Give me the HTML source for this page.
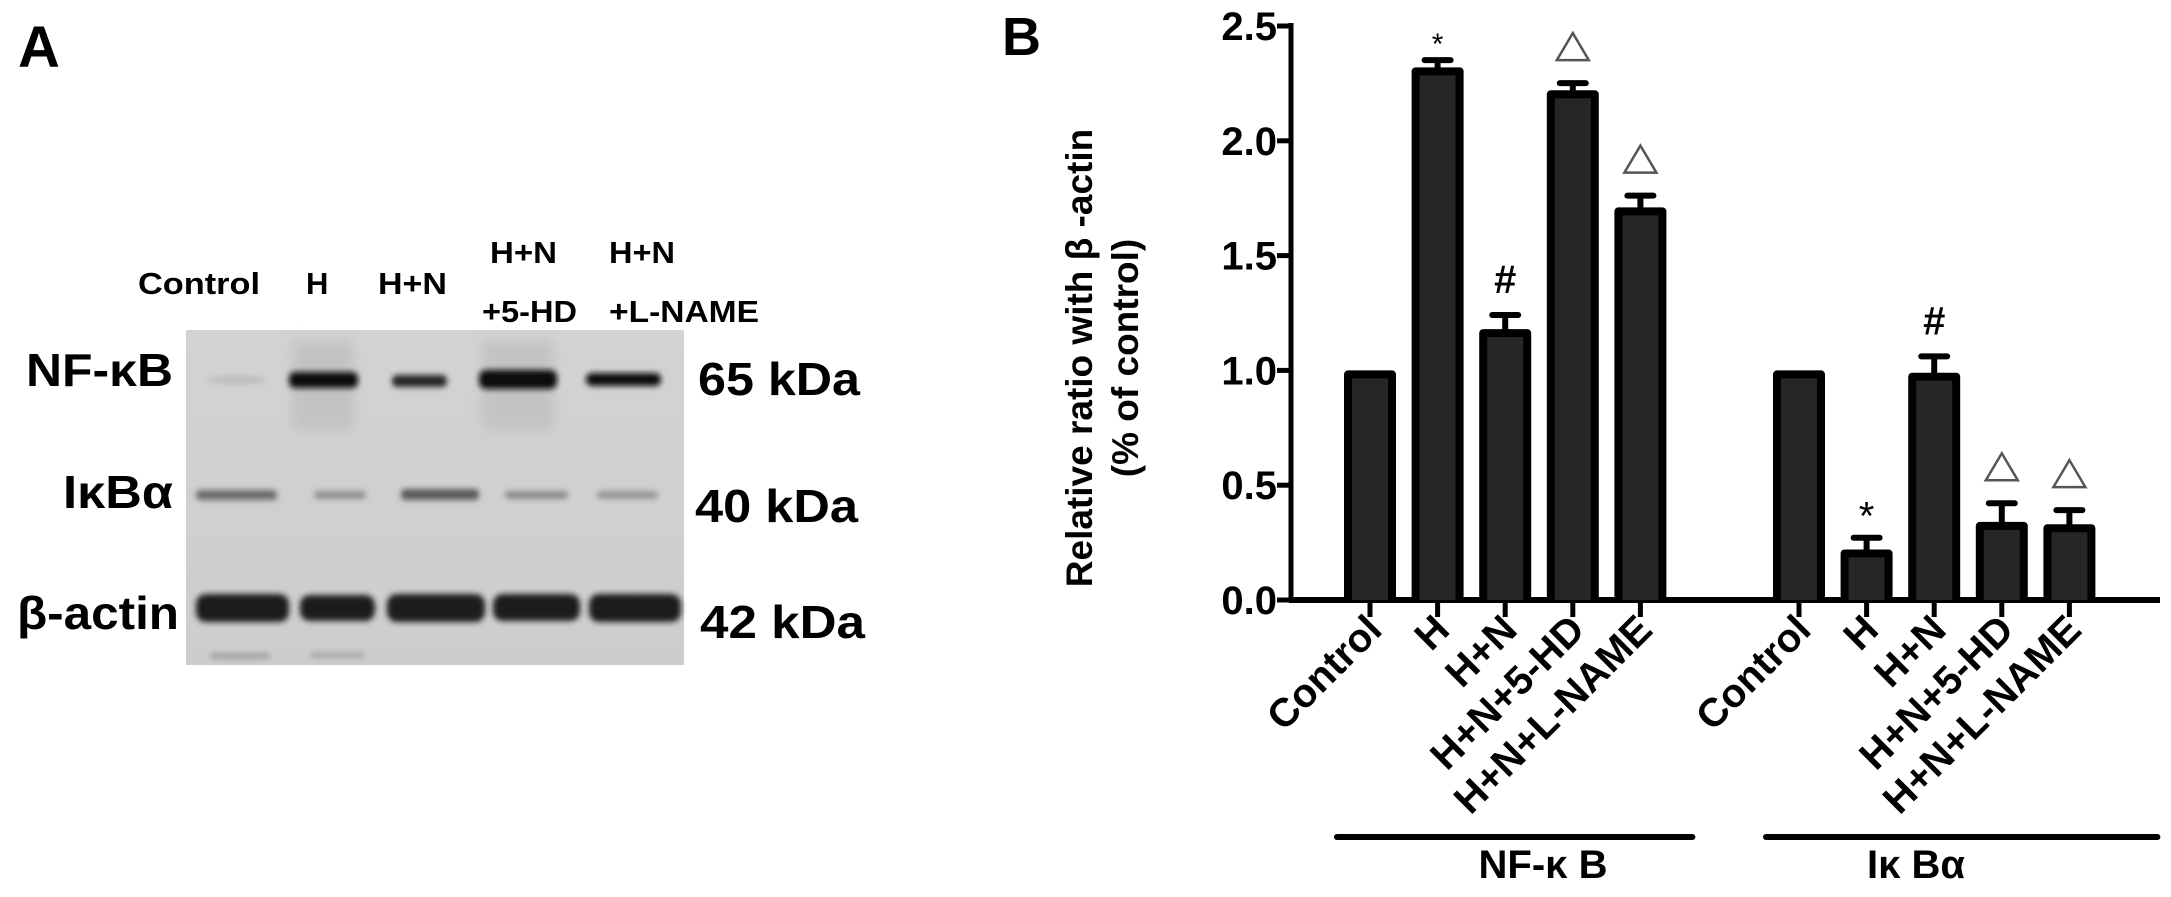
<!DOCTYPE html>
<html><head><meta charset="utf-8"><style>
html,body{margin:0;padding:0;background:#fff;}
svg{display:block;font-family:"Liberation Sans",Arial,sans-serif;font-weight:bold;}
</style></head><body>
<svg id="fig" width="2171" height="897" viewBox="0 0 2171 897" xmlns="http://www.w3.org/2000/svg">
<defs>
<filter id="blur" x="-20%" y="-80%" width="140%" height="260%"><feGaussianBlur stdDeviation="3"/></filter>
<filter id="blur2" x="-20%" y="-80%" width="140%" height="260%"><feGaussianBlur stdDeviation="6"/></filter>
<linearGradient id="blotbg" x1="0" y1="0" x2="0" y2="1">
<stop offset="0" stop-color="#d3d3d3"/><stop offset="1" stop-color="#cdcdcd"/></linearGradient>
</defs>

<!-- Panel A -->
<g>
<text x="18" y="67" font-size="58">A</text>
<g font-size="31">
<text x="138" y="294" textLength="122" lengthAdjust="spacingAndGlyphs">Control</text>
<text x="306" y="294">H</text>
<text x="378" y="294" textLength="69" lengthAdjust="spacingAndGlyphs">H+N</text>
<text x="490" y="263" textLength="67" lengthAdjust="spacingAndGlyphs">H+N</text>
<text x="482" y="322" textLength="95" lengthAdjust="spacingAndGlyphs">+5-HD</text>
<text x="609" y="263" textLength="66" lengthAdjust="spacingAndGlyphs">H+N</text>
<text x="609" y="322" textLength="150" lengthAdjust="spacingAndGlyphs">+L-NAME</text>
</g>
<g>
<rect x="186" y="330" width="498" height="335" fill="url(#blotbg)"/>
<g filter="url(#blur2)" fill="#b9b9b9" opacity="0.6">
<rect x="292" y="340" width="62" height="90"/><rect x="482" y="340" width="72" height="90"/>
</g>
<g filter="url(#blur)" fill="#111">
<ellipse cx="237" cy="380" rx="30" ry="4" fill="#bbb"/>
<rect x="289" y="372" width="69" height="16" rx="6"/>
<rect x="392" y="375" width="55" height="12" rx="5" fill="#262626"/>
<rect x="479" y="370" width="78" height="19" rx="7"/>
<rect x="586" y="373" width="75" height="13" rx="6"/>
</g>
<g filter="url(#blur)">
<rect x="196" y="490" width="81" height="10" rx="4" fill="#6a6a6a"/>
<rect x="314" y="491" width="52" height="8" rx="4" fill="#8e8e8e"/>
<rect x="401" y="489" width="78" height="11" rx="4" fill="#5a5a5a"/>
<rect x="505" y="491" width="63" height="8" rx="4" fill="#8a8a8a"/>
<rect x="597" y="491" width="61" height="8" rx="4" fill="#959595"/>
</g>
<g filter="url(#blur)" fill="#1a1a1a">
<rect x="196" y="594" width="93" height="28" rx="10"/>
<rect x="300" y="595" width="75" height="26" rx="10"/>
<rect x="387" y="594" width="98" height="28" rx="10"/>
<rect x="493" y="594" width="87" height="27" rx="10"/>
<rect x="589" y="594" width="92" height="28" rx="10"/>
<rect x="210" y="653" width="60" height="6" rx="3" fill="#a0a0a0"/>
<rect x="310" y="652" width="55" height="6" rx="3" fill="#a8a8a8"/>
</g>
</g>
<g font-size="46">
<text x="26" y="386" textLength="147" lengthAdjust="spacingAndGlyphs">NF-κB</text>
<text x="63" y="508" textLength="110" lengthAdjust="spacingAndGlyphs">IκBα</text>
<text x="17" y="629" textLength="162" lengthAdjust="spacingAndGlyphs">β-actin</text>
<text x="698" y="395" textLength="162" lengthAdjust="spacingAndGlyphs">65 kDa</text>
<text x="695" y="522" textLength="163" lengthAdjust="spacingAndGlyphs">40 kDa</text>
<text x="700" y="638" textLength="165" lengthAdjust="spacingAndGlyphs">42 kDa</text>
</g>
</g>

<!-- Panel B -->
<g>
<text x="1002" y="55" font-size="54">B</text>
<g font-size="37" text-anchor="middle">
<text transform="translate(1092,358) rotate(-90)">Relative  ratio with β -actin</text>
<text transform="translate(1138,358) rotate(-90)">(% of control)</text>
</g>
<g id="chart"></g>
</g>
</svg>
<script>
const categories = ["Control","H","H+N","H+N+5-HD","H+N+L-NAME"];
const groups = ["NF-κ B","Iκ Bα"];
const nfkbValues = [1.0, 2.32, 1.18, 2.22, 1.71];
const nfkbErrors = [0, 0.04, 0.07, 0.04, 0.06];
const ikbaValues = [1.0, 0.22, 0.99, 0.34, 0.33];
const ikbaErrors = [0, 0.06, 0.08, 0.09, 0.07];
const nfkbMarks = ["", "*", "#", "△", "△"];
const ikbaMarks = ["", "*", "#", "△", "△"];
const yTicks = [0, 0.5, 1.0, 1.5, 2.0, 2.5];
const yTickLabels = ["0.0","0.5","1.0","1.5","2.0","2.5"];

const NS = "http://www.w3.org/2000/svg";
const g = document.getElementById("chart");
const Y0 = 600, YSCALE = 229.6, AXX = 1291;
function y(v){ return Y0 - v*YSCALE; }
const groupStart = [1370, 1799], STEP = 67.6;
function x(gi, ci){ return groupStart[gi] + ci*STEP; }
function el(tag, attrs, parent){
  const e = document.createElementNS(NS, tag);
  for (const k in attrs) e.setAttribute(k, attrs[k]);
  (parent||g).appendChild(e); return e;
}
const yAxis = el("line",{x1:AXX,y1:y(2.5)-3,x2:AXX,y2:Y0+2,stroke:"#000","stroke-width":5});


const xAxis = el("line",{x1:AXX-2,y1:Y0,x2:2160,y2:Y0,stroke:"#000","stroke-width":6});


yTicks.forEach((t,i)=>{
  const tk = el("line",{x1:AXX-14,y1:y(t),x2:AXX,y2:y(t),stroke:"#000","stroke-width":5});
  
  
  const lb = el("text",{x:AXX-14,y:y(t)+14,"font-size":40,"text-anchor":"end"});
  
  
  lb.textContent = yTickLabels[i];
});
const series = [[nfkbValues,nfkbErrors,nfkbMarks],[ikbaValues,ikbaErrors,ikbaMarks]];
const BW = 52, BORDER = 8;
series.forEach((s,gi)=>{
  const [vals, errs, marks] = s;
  vals.forEach((v,ci)=>{
    const cx = x(gi,ci);
    const top = y(v);
    if (errs[ci] > 0){
      const ey = y(v+errs[ci]);
      const eb = el("line",{x1:cx,y1:ey,x2:cx,y2:top+2,stroke:"#000","stroke-width":6});
      
      
      const cap = el("line",{x1:cx-13,y1:ey+2,x2:cx+13,y2:ey+2,stroke:"#000","stroke-width":6,"stroke-linecap":"round"});
      
      
    }
    const outer = el("rect",{x:cx-BW/2,y:top,width:BW,height:Y0-top,rx:4,fill:"#000"});
    
    
    const inner = el("rect",{x:cx-BW/2+BORDER,y:top+BORDER,width:BW-2*BORDER,height:Math.max(0,Y0-top-BORDER),fill:"#262626"});
    
    
    const m = marks[ci];
    if (m){
      const ay = y(v+errs[ci]) - 34;
      if (m === "△"){
        const tri = el("polygon",{points:`${cx-16},${ay+13} ${cx+16},${ay+13} ${cx},${ay-14}`,fill:"none",stroke:"#555","stroke-width":2.5});
        
        
      } else {
        const fs = (m==="*" && gi===0) ? 30 : 40;
        const off = m==="*" ? (gi===0 ? 20 : 28) : 14;
        const t = el("text",{x:cx,y:ay+off+(gi===0&&m==="*"?10:0),"font-size":fs,"text-anchor":"middle","font-weight":m==="#"?"bold":"normal"});
        
        
        t.textContent = m;
      }
    }
    const tk = el("line",{x1:cx,y1:Y0,x2:cx,y2:Y0+17,stroke:"#000","stroke-width":5});
    
    
    const lb = el("text",{transform:`translate(${cx+14},${Y0+32}) rotate(-45)`,"font-size":40,"text-anchor":"end"});
    
    
    lb.textContent = categories[ci];
  });
  const gx1 = x(gi,0) - 33, gx2 = x(gi,categories.length-1) + 52 + (gi===1?36:0);
  const gl = el("line",{x1:gx1,y1:837,x2:gx2,y2:837,stroke:"#000","stroke-width":6,"stroke-linecap":"round"});
  
  
  const gt = el("text",{x:(gi===0?1543:1916),y:878,"font-size":40,"text-anchor":"middle"});
  
  
  gt.textContent = groups[gi];
});
</script>
</body></html>
